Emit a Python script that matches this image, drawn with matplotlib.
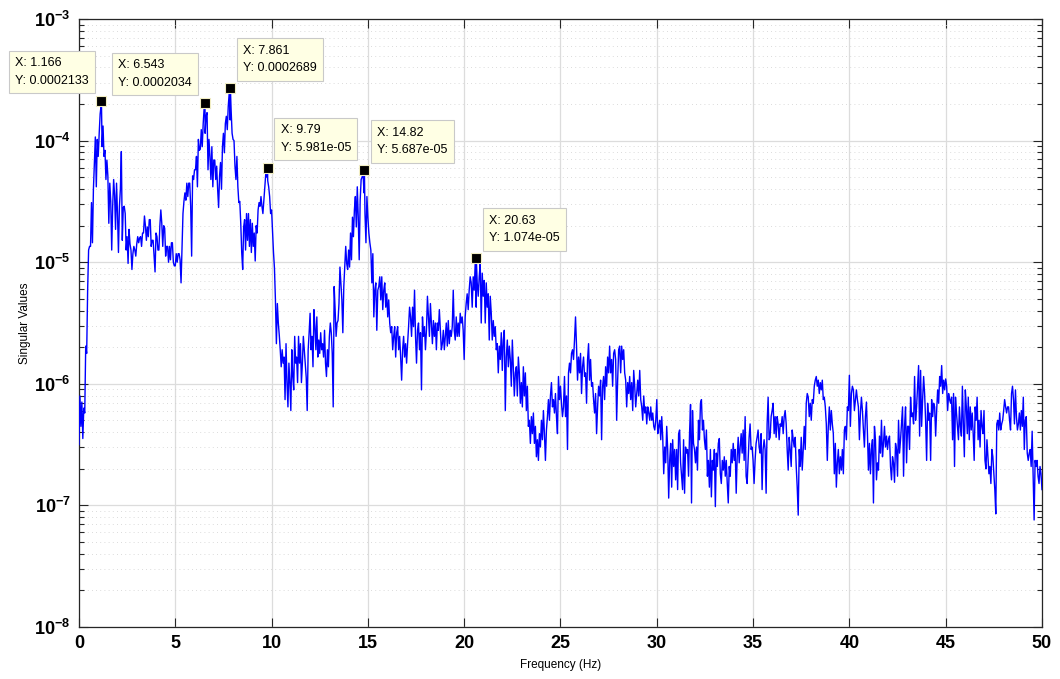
import numpy as np
import matplotlib
matplotlib.use("Agg")
from matplotlib import pyplot as plt
from matplotlib.ticker import LogLocator, FuncFormatter, NullFormatter

plt.rcParams['font.family'] = ['Liberation Sans', 'DejaVu Sans']
plt.rcParams['mathtext.fontset'] = 'custom'
plt.rcParams['mathtext.rm'] = 'Liberation Sans'
plt.rcParams['mathtext.bf'] = 'Liberation Sans:bold'

# first singular value of the spectral matrix, log10, one list per 5 Hz band
sv_00_05 = [-6.50, -6.10, -6.35, -6.15, -6.45, -6.20, -6.24, -5.69, -5.75, -5.23,
            -4.90, -4.87, -4.87, -4.51, -4.84, -4.40, -4.18, -3.97, -4.38, -3.99,
            -4.13, -3.94, -3.78, -3.71, -4.05, -3.88, -4.13, -4.08, -4.32, -4.16,
            -4.29, -4.68, -4.35, -4.50, -4.90, -4.54, -4.32, -4.45, -4.73, -4.35,
            -4.60, -4.92, -4.54, -4.40, -4.09, -4.82, -4.55, -4.54, -4.60, -4.90,
            -4.79, -5.01, -4.73, -4.85, -4.90, -5.06, -4.93, -4.87, -4.90, -4.95,
            -4.85, -4.79, -4.84, -4.80, -4.79, -4.87, -4.76, -4.76, -4.62, -4.70,
            -4.82, -4.71, -4.79, -4.65, -4.65, -4.87, -4.82, -4.82, -4.95, -5.08,
            -4.76, -4.79, -4.90, -4.90, -4.70, -4.57, -4.68, -4.87, -4.70, -4.72,
            -4.95, -4.87, -4.87, -5.00, -4.87, -4.98, -4.84, -4.84, -5.00, -5.03]
sv_05_10 = [-5.03, -4.93, -5.00, -4.93, -4.93, -4.98, -5.17, -4.87, -4.60, -4.50,
            -4.43, -4.49, -4.35, -4.46, -4.35, -4.35, -4.54, -4.95, -4.29, -4.32,
            -4.24, -4.24, -4.13, -4.38, -3.99, -4.08, -4.07, -3.91, -4.05, -3.86,
            -3.73, -3.94, -3.80, -3.77, -4.24, -3.99, -4.13, -4.32, -4.05, -4.38,
            -4.16, -4.16, -4.32, -4.21, -4.40, -4.55, -4.29, -4.18, -4.40, -4.05,
            -3.94, -4.10, -3.86, -3.80, -3.91, -3.72, -3.61, -3.83, -3.75, -3.94,
            -3.99, -4.00, -4.21, -4.32, -4.13, -4.38, -4.51, -4.50, -4.68, -4.92,
            -5.06, -4.71, -4.65, -4.90, -4.60, -4.82, -4.60, -4.87, -4.65, -4.92,
            -4.68, -4.87, -4.76, -4.99, -4.70, -4.76, -4.57, -4.51, -4.54, -4.46,
            -4.54, -4.60, -4.49, -4.38, -4.27, -4.30, -4.33, -4.38, -4.46, -4.60]
sv_10_15 = [-4.57, -4.75, -4.92, -5.05, -5.31, -5.67, -5.34, -5.50, -5.60, -5.72,
            -5.86, -5.72, -5.83, -5.78, -6.13, -5.67, -5.99, -6.19, -5.83, -5.99,
            -6.22, -5.72, -5.94, -6.05, -5.61, -5.83, -5.78, -5.99, -5.61, -5.83,
            -5.67, -5.99, -5.83, -5.61, -5.72, -5.83, -5.95, -6.22, -5.72, -5.58,
            -5.42, -5.72, -5.61, -5.86, -5.39, -5.53, -5.72, -5.45, -5.78, -5.64,
            -5.75, -5.58, -5.72, -5.67, -5.78, -5.56, -5.83, -5.94, -5.72, -5.86,
            -5.61, -5.50, -5.58, -5.75, -6.19, -5.20, -5.39, -5.61, -5.50, -5.48,
            -5.34, -5.04, -5.17, -5.31, -5.58, -5.20, -5.04, -4.87, -5.01, -5.06,
            -4.90, -5.04, -4.76, -4.98, -4.63, -4.79, -4.57, -4.46, -4.71, -4.38,
            -4.63, -4.98, -4.49, -4.32, -4.30, -4.27, -4.43, -4.60, -4.84, -4.46]
sv_15_20 = [-4.63, -4.76, -4.84, -4.90, -5.17, -4.93, -5.45, -5.23, -5.17, -5.56,
            -5.23, -5.20, -5.12, -5.31, -5.12, -5.39, -5.23, -5.17, -5.37, -5.26,
            -5.45, -5.31, -5.50, -5.58, -5.53, -5.72, -5.61, -5.53, -5.78, -5.58,
            -5.53, -5.72, -5.61, -5.78, -5.97, -5.72, -5.61, -5.78, -5.67, -5.83,
            -5.67, -5.53, -5.37, -5.45, -5.61, -5.37, -5.53, -5.23, -5.61, -5.83,
            -5.56, -5.50, -5.72, -5.58, -6.05, -5.45, -5.61, -5.53, -5.72, -5.56,
            -5.28, -5.45, -5.61, -5.34, -5.50, -5.67, -5.48, -5.61, -5.50, -5.72,
            -5.50, -5.56, -5.39, -5.56, -5.72, -5.67, -5.56, -5.72, -5.61, -5.50,
            -5.69, -5.48, -5.67, -5.56, -5.61, -5.53, -5.23, -5.56, -5.64, -5.45,
            -5.61, -5.50, -5.61, -5.42, -5.50, -5.45, -5.56]
sv_20_25 = [-5.80, -5.45, -5.34, -5.26, -5.39, -5.23, -5.12, -5.17, -5.37, -5.12,
            -5.23, -5.01, -5.37, -5.17, -5.28, -5.12, -5.01, -5.50, -5.09, -5.28,
            -5.15, -5.50, -5.17, -5.37, -5.26, -5.64, -5.28, -5.42, -5.64, -5.48,
            -5.61, -5.53, -5.72, -5.67, -5.91, -5.69, -5.80, -5.58, -5.89, -5.64,
            -5.56, -6.22, -5.78, -5.64, -5.86, -5.69, -5.80, -6.02, -5.64, -5.86,
            -6.10, -5.91, -5.86, -6.10, -5.78, -5.91, -6.16, -5.99, -6.19, -5.86,
            -6.10, -5.91, -6.22, -6.02, -6.35, -6.30, -6.49, -6.27, -6.41, -6.24,
            -6.49, -6.35, -6.60, -6.46, -6.63, -6.41, -6.52, -6.30, -6.46, -6.22,
            -6.41, -6.63, -6.38, -6.27, -6.13, -6.30, -6.10, -5.99, -6.19, -6.13,
            -6.24, -6.08, -6.27, -6.41, -5.94, -6.13]
sv_25_30 = [-6.02, -6.16, -6.27, -6.19, -5.94, -6.27, -6.10, -6.54, -5.91, -5.83,
            -5.91, -5.75, -5.72, -5.80, -5.64, -5.45, -5.69, -5.97, -5.78, -5.91,
            -5.75, -6.08, -5.86, -5.78, -5.94, -5.91, -6.16, -5.80, -5.67, -5.97,
            -5.80, -6.02, -5.99, -6.13, -6.24, -6.08, -6.41, -6.19, -6.02, -6.10,
            -5.97, -6.46, -6.02, -5.94, -6.13, -5.86, -6.02, -5.78, -5.91, -5.69,
            -5.91, -5.80, -6.02, -5.75, -5.72, -5.80, -6.30, -5.97, -5.72, -5.69,
            -5.91, -5.69, -5.80, -5.72, -5.91, -5.97, -6.19, -5.99, -6.08, -5.94,
            -6.13, -5.99, -6.22, -5.89, -6.02, -6.19, -6.08, -5.97, -6.10, -5.89,
            -6.13, -6.19, -6.30, -6.10, -6.24, -6.19, -6.33, -6.19, -6.24, -6.30,
            -6.19, -6.30, -6.24, -6.35, -6.38, -6.30]
sv_30_35 = [-6.13, -6.41, -6.35, -6.30, -6.46, -6.27, -6.44, -6.74, -6.52, -6.65,
            -6.35, -6.54, -6.94, -6.63, -6.49, -6.85, -6.46, -6.68, -6.54, -6.79,
            -6.54, -6.87, -6.41, -6.38, -6.65, -6.76, -6.87, -6.46, -6.90, -6.52,
            -6.57, -6.54, -6.76, -6.41, -6.17, -6.98, -6.22, -6.49, -6.54, -6.65,
            -6.52, -6.71, -6.30, -6.46, -6.16, -6.13, -6.38, -6.30, -6.46, -6.54,
            -6.38, -6.76, -6.63, -6.85, -6.54, -6.93, -6.63, -6.71, -6.54, -7.01,
            -6.57, -6.68, -6.49, -6.45, -6.74, -6.82, -6.63, -6.71, -6.60, -6.76,
            -6.63, -6.82, -6.98, -6.68, -6.76, -6.54, -6.65, -6.49, -6.63, -6.54,
            -6.90, -6.60, -6.44, -6.65, -6.52, -6.41, -6.57, -6.38, -6.63, -6.27,
            -6.76, -6.82, -6.63, -6.44, -6.33, -6.54, -6.52]
sv_35_40 = [-6.63, -6.82, -6.63, -6.49, -6.44, -6.38, -6.52, -6.57, -6.41, -6.87,
            -6.54, -6.46, -6.54, -6.90, -6.33, -6.11, -6.46, -6.44, -6.27, -6.22,
            -6.16, -6.41, -6.27, -6.44, -6.27, -6.33, -6.46, -6.33, -6.35, -6.27,
            -6.41, -6.27, -6.22, -6.33, -6.54, -6.71, -6.44, -6.54, -6.68, -6.38,
            -6.46, -6.52, -6.44, -6.68, -6.85, -7.08, -6.54, -6.68, -6.44, -6.71,
            -6.54, -6.35, -6.54, -6.16, -6.08, -6.11, -6.27, -6.16, -6.30, -6.13,
            -6.16, -6.02, -5.97, -5.94, -6.02, -5.97, -6.08, -5.99, -6.05, -5.97,
            -6.13, -6.11, -6.19, -6.33, -6.63, -6.35, -6.19, -6.38, -6.22, -6.33,
            -6.41, -6.74, -6.49, -6.85, -6.65, -6.54, -6.74, -6.60, -6.71, -6.54,
            -6.74, -6.38, -6.35, -6.46, -6.19, -6.22]
sv_40_45 = [-5.93, -6.35, -6.08, -6.02, -6.05, -6.22, -6.13, -6.05, -6.13, -6.19,
            -6.46, -6.24, -6.11, -6.22, -6.38, -6.52, -6.27, -6.15, -6.41, -6.71,
            -6.49, -6.74, -6.54, -6.46, -6.98, -6.35, -6.46, -6.79, -6.65, -6.71,
            -6.43, -6.57, -6.30, -6.60, -6.49, -6.35, -6.52, -6.43, -6.54, -6.46,
            -6.43, -6.68, -6.79, -6.60, -6.65, -6.81, -6.49, -6.54, -6.76, -6.30,
            -6.57, -6.46, -6.33, -6.19, -6.76, -6.35, -6.19, -6.65, -6.35, -6.35,
            -6.54, -6.11, -6.27, -6.24, -6.33, -5.94, -6.30, -6.19, -6.02, -5.85,
            -6.43, -5.89, -6.35, -6.13, -5.94, -6.08, -6.30, -6.63, -6.16, -6.30,
            -6.24, -6.63, -6.13, -6.27, -6.16, -6.19, -6.43, -6.22, -6.05, -6.16,
            -5.94, -6.02, -5.85, -6.08, -5.97, -6.05]
sv_45_50 = [-5.96, -6.02, -6.22, -6.08, -6.13, -6.16, -6.11, -6.46, -6.08, -6.68,
            -6.11, -6.24, -6.35, -6.46, -6.19, -6.35, -6.43, -6.02, -6.33, -6.60,
            -6.05, -6.19, -6.41, -6.11, -6.46, -6.19, -6.38, -6.24, -6.41, -6.63,
            -6.19, -6.30, -6.11, -6.46, -6.30, -6.52, -6.22, -6.35, -6.41, -6.22,
            -6.63, -6.70, -6.46, -6.60, -6.74, -6.68, -6.82, -6.54, -6.60, -6.74,
            -6.87, -7.07, -6.33, -6.30, -6.38, -6.24, -6.38, -6.33, -6.30, -6.22,
            -6.13, -6.19, -6.24, -6.19, -6.19, -6.30, -6.38, -6.08, -6.02, -6.13,
            -6.33, -6.05, -6.27, -6.38, -6.33, -6.24, -6.38, -6.22, -6.35, -6.11,
            -6.54, -6.30, -6.27, -6.57, -6.63, -6.57, -6.54, -6.68, -6.39, -6.74,
            -7.12, -6.63, -6.68, -6.63, -6.76, -6.82, -6.68, -6.74, -6.87]

bands = [sv_00_05, sv_05_10, sv_10_15, sv_15_20, sv_20_25,
         sv_25_30, sv_30_35, sv_35_40, sv_40_45, sv_45_50]
band_edges = [0, 5, 10, 15, 20, 25, 30, 35, 40, 45, 50]

# picked peaks
tip_freq = [1.166, 6.543, 7.861, 9.79, 14.82, 20.63]
tip_sv = [0.0002133, 0.0002034, 0.0002689, 5.981e-05, 5.687e-05, 1.074e-05]
tip_side = ['left', 'left', 'right', 'right', 'right', 'right']

freq_parts, sv_parts = [], []
for i, vals in enumerate(bands):
    last = i == len(bands) - 1
    f = np.linspace(band_edges[i], band_edges[i + 1], len(vals), endpoint=last)
    freq_parts.append(f)
    sv_parts.append(10.0 ** np.asarray(vals))
freq = np.concatenate(freq_parts + [np.asarray(tip_freq)])
sv = np.concatenate(sv_parts + [np.asarray(tip_sv)])
order = np.argsort(freq)
freq, sv = freq[order], sv[order]

fig = plt.figure(figsize=(10.6, 6.79), dpi=100)
ax = fig.add_axes([0.0745, 0.0766, 0.9085, 0.8954])

ax.plot(freq, sv, color=(0, 0, 1), lw=1.0, zorder=3)

ax.set_yscale('log')
ax.set_xlim(0, 50)
ax.set_ylim(1e-8, 1e-3)
ax.set_xticks(np.arange(0, 51, 5))
ax.yaxis.set_major_locator(LogLocator(base=10, numticks=10))
ax.yaxis.set_minor_locator(LogLocator(base=10, subs=np.arange(2, 10), numticks=20))
ax.yaxis.set_major_formatter(
    FuncFormatter(lambda v, p: r'$\mathbf{10^{%d}}$' % round(np.log10(v))))
ax.yaxis.set_minor_formatter(NullFormatter())

ax.grid(True, which='major', color='#dcdcdc', lw=0.9, zorder=0)
ax.grid(True, which='minor', axis='y', color='#cfcfcf', lw=0.6,
        ls=(0, (1, 4)), zorder=0)
ax.set_axisbelow(True)

for s in ax.spines.values():
    s.set_color('#262626')
    s.set_linewidth(0.9)
ax.tick_params(which='both', direction='in', top=True, right=True,
               color='#262626', width=0.8)
ax.tick_params(which='major', length=6.5, pad=6, labelsize=13)
ax.tick_params(which='minor', length=3.5)
for lab in ax.get_xticklabels():
    lab.set_fontweight('bold')

ax.set_xlabel('Frequency (Hz)', fontsize=8.5, labelpad=5)
ax.set_ylabel('Singular Values', fontsize=8.5, labelpad=2)

# data tips on the picked peaks
ax.plot(tip_freq, tip_sv, 's', ms=6.5, mfc='black', mec='#f2eec4',
        mew=0.8, zorder=5)
for x, y, side in zip(tip_freq, tip_sv, tip_side):
    dx = -13 if side == 'left' else 13
    ax.annotate(f"X: {x:.4g}\nY: {y:.4g}", xy=(x, y), xytext=(dx, 14),
                textcoords='offset pixels',
                ha='right' if side == 'left' else 'left', va='bottom',
                multialignment='left',
                fontsize=9, linespacing=1.65, zorder=6,
                bbox=dict(boxstyle='square,pad=0.5', fc='#ffffe4',
                          ec='#c9c9c9', lw=0.8))

plt.savefig('out.png', dpi=100)
